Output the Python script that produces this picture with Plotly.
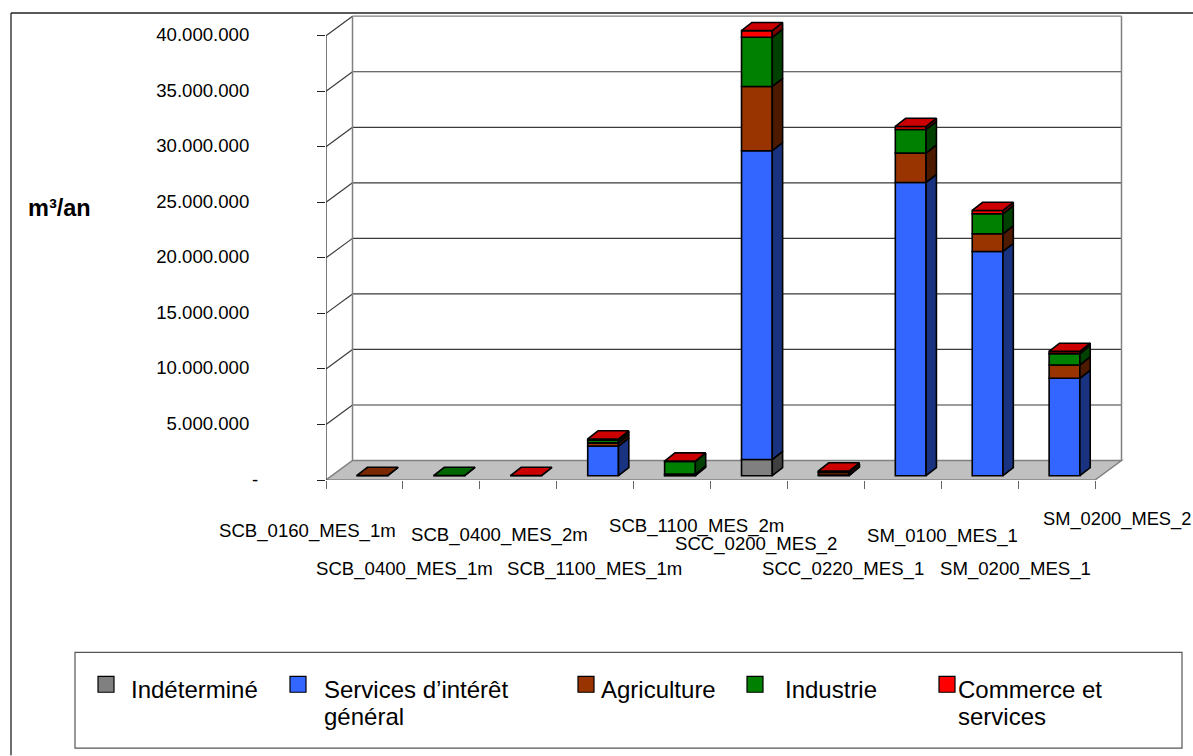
import plotly.graph_objects as go

# ---------- data (m3/an) ----------
categories = ["SCB_0160_MES_1m", "SCB_0400_MES_1m", "SCB_0400_MES_2m", "SCB_1100_MES_1m",
              "SCB_1100_MES_2m", "SCC_0200_MES_2", "SCC_0220_MES_1", "SM_0100_MES_1",
              "SM_0200_MES_1", "SM_0200_MES_2"]
indetermine = [0, 0, 0, 0, 0, 1460000, 0, 0, 0, 0]
services_ig = [0, 0, 0, 2660000, 30000, 27800000, 50000, 26400000, 20190000, 8770000]
agriculture = [20000, 0, 0, 300000, 120000, 5780000, 250000, 2640000, 1590000, 1200000]
industrie = [0, 20000, 0, 230000, 1140000, 4430000, 50000, 2130000, 1800000, 1020000]
commerce = [0, 0, 20000, 120000, 30000, 600000, 80000, 270000, 300000, 200000]

y_tick_values = [0, 5000000, 10000000, 15000000, 20000000, 25000000, 30000000, 35000000, 40000000]
y_tick_labels = ["-", "5.000.000", "10.000.000", "15.000.000", "20.000.000",
                 "25.000.000", "30.000.000", "35.000.000", "40.000.000"]

series_names = ["Indéterminé", "Services d’intérêt|général", "Agriculture", "Industrie",
                "Commerce et|services"]
series_values = [indetermine, services_ig, agriculture, industrie, commerce]

# ---------- styles ----------
front_colors = ["#808080", "#3366FF", "#993300", "#008000", "#FF0000"]
side_colors = ["#404040", "#1A3380", "#4D1A00", "#004000", "#800000"]
top_colors = ["#666666", "#2952CC", "#7A2900", "#006600", "#CC0000"]
FONT = "Liberation Sans, Arial, sans-serif"

# ---------- layout geometry ----------
W, H = 1193, 756
L, R, T, B = 326, 1127, 10, 480.5
PX_PER_CAT = 76.9
PX_PER_VAL = 444.8 / 40000000
x_max = (R - L) / PX_PER_CAT
y_max = (B - T) / PX_PER_VAL
DX = 26.5 / PX_PER_CAT          # 3D depth, in x units
DY = 19.5 / PX_PER_VAL          # 3D depth, in y units
BAR_W = 0.4
EDGE = 1.6


def px(x):
    return (x - L) / (R - L)


def py(y):
    return (B - y) / (B - T)


fig = go.Figure()
n = len(categories)

# stacked faces, computed from values
cum = [0.0] * n
top_series = [max(k for k, s in enumerate(series_values) if s[i] > 0) for i in range(n)]
for k, vals in enumerate(series_values):
    xs, bases, heights = [], [], []
    side_x, side_y, top_x, top_y = [], [], [], []
    for i, v in enumerate(vals):
        if v <= 0:
            continue
        x0 = i + 0.5 + 0.3 * DX
        y0 = cum[i] + 0.22 * DY
        xs.append(x0)
        bases.append(y0)
        heights.append(v)
        xr = x0 + BAR_W / 2
        xl = x0 - BAR_W / 2
        ddx, ddy = 0.39 * DX, 0.42 * DY
        side_x += [xr, xr + ddx, xr + ddx, xr, xr, None]
        side_y += [y0, y0 + ddy, y0 + v + ddy, y0 + v, y0, None]
        if top_series[i] == k:
            top_x += [xl, xr, xr + ddx, xl + ddx, xl, None]
            top_y += [y0 + v, y0 + v, y0 + v + ddy, y0 + v + ddy, y0 + v, None]
        cum[i] += v
    fig.add_trace(go.Bar(x=xs, y=heights, base=bases, width=BAR_W, name=series_names[k].replace("|", " "),
                         marker=dict(color=front_colors[k], line=dict(color="black", width=EDGE)),
                         hoverinfo="skip", showlegend=False))
    fig.add_trace(go.Scatter(x=side_x, y=side_y, mode="lines", fill="toself", fillcolor=side_colors[k],
                             line=dict(color="black", width=EDGE), hoverinfo="skip", showlegend=False))
    if top_x:
        fig.add_trace(go.Scatter(x=top_x, y=top_y, mode="lines", fill="toself", fillcolor=top_colors[k],
                                 line=dict(color="black", width=EDGE), hoverinfo="skip", showlegend=False))

shapes = []
# floor
shapes.append(dict(type="path", layer="below", xref="x", yref="y",
                   path=f"M 0 0 L {n} 0 L {n + DX} {DY} L {DX} {DY} Z",
                   fillcolor="#C0C0C0", line=dict(color="#808080", width=1.5)))
# wall gridlines
for idx, v in enumerate(y_tick_values[1:]):
    col = "#808080" if idx == len(y_tick_values) - 2 else "#3A3A3A"
    shapes.append(dict(type="line", layer="below", xref="x", yref="y", x0=DX, x1=n + DX, y0=v + DY, y1=v + DY,
                       line=dict(color=col, width=1.2)))
    shapes.append(dict(type="line", layer="below", xref="x", yref="y", x0=0, x1=DX, y0=v, y1=v + DY,
                       line=dict(color="#3A3A3A", width=1.2)))
# wall edges
for xv in (DX, n + DX):
    shapes.append(dict(type="line", layer="below", xref="x", yref="y", x0=xv, x1=xv, y0=DY,
                       y1=y_tick_values[-1] + DY, line=dict(color="#808080", width=1.5)))
# y axis line
shapes.append(dict(type="line", xref="x", yref="y", x0=0, x1=0, y0=0, y1=y_tick_values[-1],
                   line=dict(color="#333333", width=1.3), layer="below"))

# outer frame
shapes.append(dict(type="line", xref="paper", yref="paper", x0=px(11), x1=px(W), y0=py(13), y1=py(13),
                   line=dict(color="#222222", width=1.3)))
shapes.append(dict(type="line", xref="paper", yref="paper", x0=px(11), x1=px(11), y0=py(13), y1=py(H),
                   line=dict(color="#222222", width=1.3)))
# legend box
shapes.append(dict(type="rect", xref="paper", yref="paper", x0=px(75), x1=px(1182), y0=py(653), y1=py(749),
                   line=dict(color="#555555", width=1.2), fillcolor="white"))

annotations = []
# category labels, placed as in the reference (staggered by hand)
label_left = [217, 314, 409, 505, 607, 673, 760, 865, 938, 1041]
label_y = [532, 570, 536, 570, 527, 545, 570, 537, 570, 520]
label_size = [18.6] * 9 + [18.3]
for name, lx, ly, ls in zip(categories, label_left, label_y, label_size):
    annotations.append(dict(text=name, xref="paper", yref="paper", x=px(lx), y=py(ly), xanchor="left",
                            yanchor="middle", showarrow=False, align="left",
                            font=dict(family=FONT, size=ls, color="black")))
annotations.append(dict(text="<b>m³/an</b>", xref="paper", yref="paper", x=px(26), y=py(208), xanchor="left",
                        yanchor="middle", showarrow=False, font=dict(family=FONT, size=23.5, color="black")))
# the zero label sits closer to the axis than the other tick labels
annotations.append(dict(text=y_tick_labels[0], xref="paper", yref="paper", x=px(255), y=py(480),
                        xanchor="center", yanchor="middle", showarrow=False,
                        font=dict(family=FONT, size=18.6, color="black")))

# manual legend
swatch_left = [98, 290, 578, 747, 939]
text_left = [129, 322, 599, 783, 956]
legend_line_y = [690, 717]
for name, col, sl, tl in zip(series_names, front_colors, swatch_left, text_left):
    shapes.append(dict(type="rect", xref="paper", yref="paper", x0=px(sl), x1=px(sl + 16), y0=py(677), y1=py(693),
                       fillcolor=col, line=dict(color="black", width=1.2)))
    for line_text, ly in zip(name.split("|"), legend_line_y):
        annotations.append(dict(text=line_text, xref="paper", yref="paper", x=px(tl), y=py(ly), xanchor="left",
                                yanchor="middle", align="left", showarrow=False,
                                font=dict(family=FONT, size=24, color="black")))

fig.update_layout(
    width=W, height=H, autosize=False,
    margin=dict(l=L, r=W - R, t=T, b=H - B, pad=0),
    paper_bgcolor="white", plot_bgcolor="white",
    barmode="overlay", showlegend=False,
    shapes=shapes, annotations=annotations,
    xaxis=dict(range=[0, x_max], tickmode="array", tickvals=list(range(n + 1)), ticktext=[""] * (n + 1),
               ticks="outside", ticklen=8, tickcolor="#666666", tickwidth=1.3, showgrid=False, zeroline=False,
               showline=False, automargin=False, fixedrange=True),
    yaxis=dict(range=[0, y_max], tickmode="array", tickvals=y_tick_values, ticktext=[""] + y_tick_labels[1:],
               ticks="outside", ticklen=8, tickcolor="#222222", tickwidth=1.3, showgrid=False, zeroline=False,
               showline=False, automargin=False, fixedrange=True, ticklabelstandoff=64, ticklabelshift=-1,
               tickfont=dict(family=FONT, size=18.6, color="black")),
)

fig.write_html("out.html", config={"displayModeBar": False},
               post_script="document.body.style.margin='0';document.body.style.overflow='hidden';")
